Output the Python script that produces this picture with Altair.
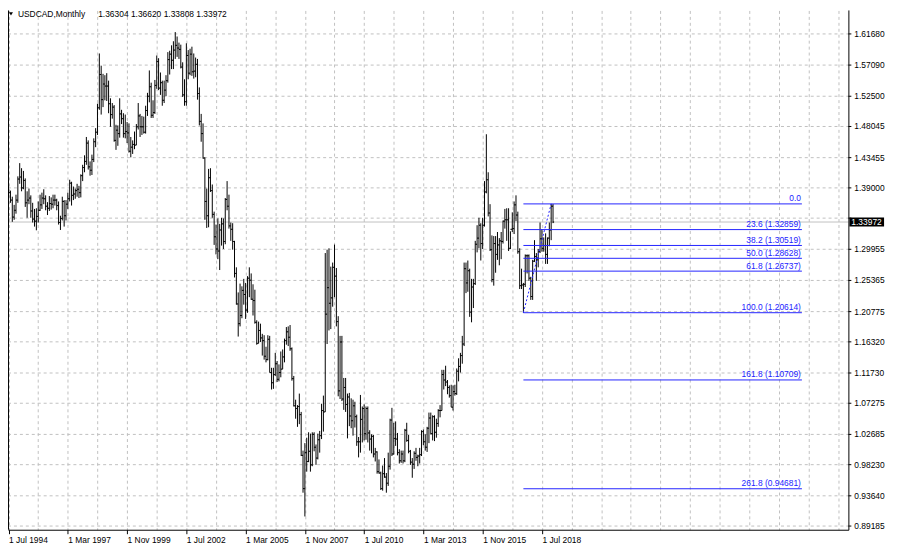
import altair as alt
import pandas as pd

# ---------------- data (monthly USDCAD bars, Jul 1994 .. Jan 2019) ----------------
opens = [
    1.3820, 1.3830, 1.3720, 1.3470, 1.3570, 1.3720,  # 1994 (Jul-Dec)
    1.4030, 1.4060, 1.3900, 1.4010, 1.3680, 1.3720, 1.3750, 1.3560, 1.3440, 1.3410, 1.3480, 1.3570,  # 1995
    1.3650, 1.3750, 1.3740, 1.3630, 1.3600, 1.3670, 1.3660, 1.3720, 1.3720, 1.3640, 1.3390, 1.3450,  # 1996
    1.3700, 1.3490, 1.3660, 1.3740, 1.3970, 1.3790, 1.3810, 1.3860, 1.3880, 1.3830, 1.4080, 1.4200,  # 1997
    1.4290, 1.4560, 1.4210, 1.4160, 1.4320, 1.4580, 1.4720, 1.5080, 1.5570, 1.5200, 1.5430, 1.5400,  # 1998
    1.5400, 1.5140, 1.4980, 1.5090, 1.4600, 1.4750, 1.4700, 1.4990, 1.4920, 1.4700, 1.4730, 1.4710,  # 1999
    1.4440, 1.4500, 1.4540, 1.4530, 1.4800, 1.4960, 1.4800, 1.4800, 1.4720, 1.5040, 1.5250, 1.5390,  # 2000
    1.4970, 1.5010, 1.5410, 1.5760, 1.5370, 1.5450, 1.5190, 1.5340, 1.5480, 1.5790, 1.5870, 1.5780,  # 2001
    1.5930, 1.6000, 1.5960, 1.5940, 1.5680, 1.5270, 1.5170, 1.5850, 1.5590, 1.5870, 1.5610, 1.5620,  # 2002
    1.5720, 1.5290, 1.4880, 1.4700, 1.4340, 1.3700, 1.3490, 1.4050, 1.3860, 1.3510, 1.3180, 1.3000,  # 2003
    1.2970, 1.3280, 1.3370, 1.3110, 1.3730, 1.3630, 1.3340, 1.3290, 1.3110, 1.2640, 1.2190, 1.1900,  # 2004
    1.2020, 1.2390, 1.2330, 1.2100, 1.2570, 1.2540, 1.2260, 1.2240, 1.1920, 1.1610, 1.1800, 1.1690,  # 2005
    1.1650, 1.1420, 1.1370, 1.1670, 1.1180, 1.1030, 1.1150, 1.1310, 1.1080, 1.1180, 1.1230, 1.1410,  # 2006
    1.1650, 1.1780, 1.1700, 1.1530, 1.1090, 1.0690, 1.0650, 1.0680, 1.0560, 0.9960, 0.9470, 1.0000,  # 2007
    0.9870, 1.0020, 0.9820, 1.0270, 1.0080, 0.9920, 1.0190, 1.0250, 1.0620, 1.0600, 1.2040, 1.2430,  # 2008
    1.2200, 1.2280, 1.2730, 1.2600, 1.1930, 1.0910, 1.1630, 1.0790, 1.0960, 1.0710, 1.0820, 1.0540,  # 2009
    1.0470, 1.0690, 1.0530, 1.0160, 1.0160, 1.0490, 1.0650, 1.0280, 1.0650, 1.0290, 1.0200, 1.0240,  # 2010
    0.9980, 1.0010, 0.9720, 0.9700, 0.9470, 0.9690, 0.9640, 0.9550, 0.9800, 1.0480, 0.9980, 1.0210,  # 2011
    1.0200, 1.0000, 0.9880, 0.9980, 0.9880, 1.0330, 1.0180, 1.0020, 0.9860, 0.9830, 0.9990, 0.9930,  # 2012
    0.9950, 0.9970, 1.0310, 1.0160, 1.0080, 1.0360, 1.0510, 1.0280, 1.0530, 1.0300, 1.0430, 1.0620,  # 2013
    1.0620, 1.1150, 1.1070, 1.1040, 1.0960, 1.0840, 1.0670, 1.0900, 1.0870, 1.1200, 1.1270, 1.1430,  # 2014
    1.1600, 1.2710, 1.2500, 1.2680, 1.2070, 1.2440, 1.2490, 1.3070, 1.3160, 1.3350, 1.3080, 1.3350,  # 2015
    1.3840, 1.4020, 1.3530, 1.2990, 1.2550, 1.3080, 1.2920, 1.3060, 1.3120, 1.3110, 1.3410, 1.3430,  # 2016
    1.3430, 1.3010, 1.3290, 1.3300, 1.3650, 1.3500, 1.2960, 1.2460, 1.2470, 1.2480, 1.2900, 1.2900,  # 2017
    1.2570, 1.2300, 1.2820, 1.2890, 1.2840, 1.2960, 1.3150, 1.3010, 1.3050, 1.2920, 1.3160, 1.3280,  # 2018
    1.36304,  # 2019 Jan
]
highs = [
    1.3930, 1.3860, 1.3770, 1.3650, 1.3800, 1.4070,
    1.4265, 1.4190, 1.4150, 1.4040, 1.3850, 1.3890, 1.3790, 1.3680, 1.3590, 1.3600, 1.3700, 1.3800,
    1.3830, 1.3880, 1.3790, 1.3690, 1.3780, 1.3760, 1.3800, 1.3800, 1.3740, 1.3700, 1.3490, 1.3770,
    1.3720, 1.3720, 1.3830, 1.4020, 1.3990, 1.3920, 1.3890, 1.3960, 1.3930, 1.4100, 1.4240, 1.4380,
    1.4650, 1.4600, 1.4290, 1.4390, 1.4630, 1.4780, 1.5140, 1.5880, 1.5700, 1.5580, 1.5560, 1.5590,
    1.5480, 1.5220, 1.5150, 1.5120, 1.4830, 1.4820, 1.5220, 1.5050, 1.5000, 1.4980, 1.4870, 1.4850,
    1.4650, 1.4600, 1.4730, 1.4840, 1.5150, 1.4990, 1.4960, 1.4950, 1.5110, 1.5300, 1.5630, 1.5450,
    1.5190, 1.5490, 1.5850, 1.5810, 1.5600, 1.5480, 1.5480, 1.5560, 1.5900, 1.5920, 1.6000, 1.6060,
    1.6195, 1.6130, 1.6040, 1.6010, 1.5750, 1.5500, 1.6030, 1.5930, 1.5950, 1.5980, 1.5880, 1.5820,
    1.5800, 1.5380, 1.4990, 1.4850, 1.4350, 1.3890, 1.4180, 1.4190, 1.3950, 1.3550, 1.3360, 1.3450,
    1.3370, 1.3460, 1.3450, 1.3750, 1.4000, 1.3800, 1.3390, 1.3380, 1.3120, 1.2730, 1.2360, 1.2490,
    1.2450, 1.2560, 1.2500, 1.2600, 1.2730, 1.2640, 1.2480, 1.2400, 1.1950, 1.1930, 1.1900, 1.1750,
    1.1730, 1.1560, 1.1730, 1.1720, 1.1250, 1.1250, 1.1470, 1.1350, 1.1300, 1.1490, 1.1520, 1.1680,
    1.1850, 1.1860, 1.1880, 1.1550, 1.1130, 1.0780, 1.0700, 1.0870, 1.0600, 1.0030, 1.0140, 1.0220,
    1.0300, 1.0280, 1.0300, 1.0300, 1.0120, 1.0280, 1.0320, 1.0720, 1.0840, 1.2940, 1.2990, 1.3010,
    1.2740, 1.2800, 1.3065, 1.2720, 1.2010, 1.1720, 1.1720, 1.1100, 1.1100, 1.0870, 1.0880, 1.0800,
    1.0780, 1.0750, 1.0560, 1.0230, 1.0850, 1.0680, 1.0710, 1.0680, 1.0680, 1.0330, 1.0270, 1.0260,
    1.0070, 1.0020, 0.9900, 0.9720, 0.9810, 0.9920, 0.9700, 1.0000, 1.0500, 1.0660, 1.0440, 1.0460,
    1.0290, 1.0050, 1.0030, 1.0030, 1.0350, 1.0440, 1.0260, 1.0040, 0.9920, 1.0020, 1.0070, 0.9970,
    1.0070, 1.0330, 1.0340, 1.0270, 1.0380, 1.0590, 1.0590, 1.0550, 1.0550, 1.0500, 1.0640, 1.0700,
    1.1220, 1.1220, 1.1280, 1.1070, 1.0990, 1.1000, 1.0990, 1.1000, 1.1240, 1.1390, 1.1470, 1.1720,
    1.2800, 1.2800, 1.2830, 1.2710, 1.2560, 1.2560, 1.3120, 1.3350, 1.3460, 1.3380, 1.3460, 1.4000,
    1.4690, 1.4130, 1.3660, 1.3200, 1.3190, 1.3190, 1.3250, 1.3160, 1.3250, 1.3420, 1.3590, 1.3600,
    1.3600, 1.3260, 1.3540, 1.3700, 1.3790, 1.3550, 1.3010, 1.2710, 1.2500, 1.2920, 1.2920, 1.2920,
    1.2590, 1.2840, 1.3130, 1.2940, 1.3000, 1.3390, 1.3290, 1.3170, 1.3230, 1.3170, 1.3390, 1.3664,
    1.36620,
]
lows = [
    1.3760, 1.3680, 1.3400, 1.3430, 1.3520, 1.3680,
    1.3960, 1.3850, 1.3880, 1.3620, 1.3460, 1.3660, 1.3460, 1.3390, 1.3330, 1.3275, 1.3390, 1.3560,
    1.3590, 1.3660, 1.3570, 1.3500, 1.3560, 1.3580, 1.3600, 1.3640, 1.3570, 1.3360, 1.3280, 1.3420,
    1.3330, 1.3420, 1.3590, 1.3700, 1.3640, 1.3720, 1.3740, 1.3770, 1.3750, 1.3760, 1.4000, 1.4130,
    1.4240, 1.4170, 1.4080, 1.4090, 1.4280, 1.4500, 1.4680, 1.5050, 1.4980, 1.5090, 1.5190, 1.5180,
    1.5000, 1.4800, 1.4920, 1.4580, 1.4460, 1.4520, 1.4640, 1.4840, 1.4640, 1.4630, 1.4560, 1.4420,
    1.4350, 1.4400, 1.4470, 1.4530, 1.4760, 1.4650, 1.4680, 1.4700, 1.4700, 1.4960, 1.5160, 1.4930,
    1.4930, 1.4990, 1.5360, 1.5340, 1.5270, 1.5110, 1.5150, 1.5250, 1.5450, 1.5570, 1.5650, 1.5650,
    1.5800, 1.5830, 1.5800, 1.5660, 1.5240, 1.5110, 1.5110, 1.5500, 1.5560, 1.5550, 1.5510, 1.5530,
    1.5200, 1.4820, 1.4580, 1.4330, 1.3430, 1.3310, 1.3320, 1.3840, 1.3460, 1.3060, 1.2920, 1.2850,
    1.2690, 1.3050, 1.3000, 1.3070, 1.3570, 1.3300, 1.3120, 1.2990, 1.2580, 1.2180, 1.1710, 1.1860,
    1.1980, 1.2180, 1.1970, 1.2060, 1.2290, 1.2250, 1.2020, 1.1900, 1.1590, 1.1610, 1.1630, 1.1430,
    1.1370, 1.1330, 1.1360, 1.1180, 1.0930, 1.0940, 1.1130, 1.1040, 1.1050, 1.1110, 1.1230, 1.1330,
    1.1590, 1.1570, 1.1500, 1.1060, 1.0680, 1.0500, 1.0380, 1.0420, 0.9950, 0.9410, 0.9060, 0.9720,
    0.9860, 0.9720, 0.9800, 1.0020, 0.9820, 0.9900, 1.0000, 1.0200, 1.0310, 1.0600, 1.1600, 1.1800,
    1.1820, 1.2150, 1.2290, 1.1860, 1.0830, 1.0790, 1.0760, 1.0630, 1.0600, 1.0210, 1.0390, 1.0360,
    1.0250, 1.0370, 1.0100, 0.9930, 1.0000, 1.0150, 1.0180, 1.0190, 1.0150, 1.0030, 0.9990, 0.9930,
    0.9870, 0.9690, 0.9690, 0.9450, 0.9440, 0.9630, 0.9410, 0.9510, 0.9750, 0.9950, 0.9970, 1.0100,
    0.9960, 0.9840, 0.9850, 0.9840, 0.9860, 1.0160, 0.9990, 0.9820, 0.9630, 0.9760, 0.9880, 0.9800,
    0.9840, 0.9950, 1.0110, 1.0030, 1.0010, 1.0140, 1.0270, 1.0180, 1.0170, 1.0220, 1.0380, 1.0520,
    1.0620, 1.0930, 1.0980, 1.0860, 1.0810, 1.0670, 1.0620, 1.0840, 1.0850, 1.1050, 1.1180, 1.1310,
    1.1570, 1.2350, 1.2370, 1.2000, 1.1920, 1.2130, 1.2470, 1.2950, 1.3010, 1.2830, 1.3000, 1.3330,
    1.3820, 1.3480, 1.2970, 1.2510, 1.2460, 1.2650, 1.2840, 1.2760, 1.2850, 1.3080, 1.3300, 1.3120,
    1.2970, 1.3000, 1.3250, 1.3220, 1.3410, 1.2930, 1.2410, 1.2410, 1.2061, 1.2440, 1.2640, 1.2530,
    1.2250, 1.2250, 1.2810, 1.2530, 1.2730, 1.2940, 1.2960, 1.2960, 1.2780, 1.2780, 1.3040, 1.3130,
    1.33808,
]
closes = [
    1.3830, 1.3720, 1.3470, 1.3570, 1.3720, 1.4030,
    1.4060, 1.3900, 1.4010, 1.3680, 1.3720, 1.3750, 1.3560, 1.3440, 1.3410, 1.3480, 1.3570, 1.3650,
    1.3750, 1.3740, 1.3630, 1.3600, 1.3670, 1.3660, 1.3720, 1.3720, 1.3640, 1.3390, 1.3450, 1.3700,
    1.3490, 1.3660, 1.3740, 1.3970, 1.3790, 1.3810, 1.3860, 1.3880, 1.3830, 1.4080, 1.4200, 1.4290,
    1.4560, 1.4210, 1.4160, 1.4320, 1.4580, 1.4720, 1.5080, 1.5570, 1.5200, 1.5430, 1.5400, 1.5400,
    1.5140, 1.4980, 1.5090, 1.4600, 1.4750, 1.4700, 1.4990, 1.4920, 1.4700, 1.4730, 1.4710, 1.4440,
    1.4500, 1.4540, 1.4530, 1.4800, 1.4960, 1.4800, 1.4800, 1.4720, 1.5040, 1.5250, 1.5390, 1.4970,
    1.5010, 1.5410, 1.5760, 1.5370, 1.5450, 1.5190, 1.5340, 1.5480, 1.5790, 1.5870, 1.5780, 1.5930,
    1.6000, 1.5960, 1.5940, 1.5680, 1.5270, 1.5170, 1.5850, 1.5590, 1.5870, 1.5610, 1.5620, 1.5720,
    1.5290, 1.4880, 1.4700, 1.4340, 1.3700, 1.3490, 1.4050, 1.3860, 1.3510, 1.3180, 1.3000, 1.2970,
    1.3280, 1.3370, 1.3110, 1.3730, 1.3630, 1.3340, 1.3290, 1.3110, 1.2640, 1.2190, 1.1900, 1.2020,
    1.2390, 1.2330, 1.2100, 1.2570, 1.2540, 1.2260, 1.2240, 1.1920, 1.1610, 1.1800, 1.1690, 1.1650,
    1.1420, 1.1370, 1.1670, 1.1180, 1.1030, 1.1150, 1.1310, 1.1080, 1.1180, 1.1230, 1.1410, 1.1650,
    1.1780, 1.1700, 1.1530, 1.1090, 1.0690, 1.0650, 1.0680, 1.0560, 0.9960, 0.9470, 1.0000, 0.9870,
    1.0020, 0.9820, 1.0270, 1.0080, 0.9920, 1.0190, 1.0250, 1.0620, 1.0600, 1.2040, 1.2430, 1.2200,
    1.2280, 1.2730, 1.2600, 1.1930, 1.0910, 1.1630, 1.0790, 1.0960, 1.0710, 1.0820, 1.0540, 1.0470,
    1.0690, 1.0530, 1.0160, 1.0160, 1.0490, 1.0650, 1.0280, 1.0650, 1.0290, 1.0200, 1.0240, 0.9980,
    1.0010, 0.9720, 0.9700, 0.9470, 0.9690, 0.9640, 0.9550, 0.9800, 1.0480, 0.9980, 1.0210, 1.0200,
    1.0000, 0.9880, 0.9980, 0.9880, 1.0330, 1.0180, 1.0020, 0.9860, 0.9830, 0.9990, 0.9930, 0.9950,
    0.9970, 1.0310, 1.0160, 1.0080, 1.0360, 1.0510, 1.0280, 1.0530, 1.0300, 1.0430, 1.0620, 1.0620,
    1.1150, 1.1070, 1.1040, 1.0960, 1.0840, 1.0670, 1.0900, 1.0870, 1.1200, 1.1270, 1.1430, 1.1600,
    1.2710, 1.2500, 1.2680, 1.2070, 1.2440, 1.2490, 1.3070, 1.3160, 1.3350, 1.3080, 1.3350, 1.3840,
    1.4020, 1.3530, 1.2990, 1.2550, 1.3080, 1.2920, 1.3060, 1.3120, 1.3110, 1.3410, 1.3430, 1.3430,
    1.3010, 1.3290, 1.3300, 1.3650, 1.3500, 1.2960, 1.2460, 1.2470, 1.2480, 1.2900, 1.2900, 1.2570,
    1.2300, 1.2820, 1.2890, 1.2840, 1.2960, 1.3150, 1.3010, 1.3050, 1.2920, 1.3160, 1.3280, 1.3630,
    1.33972,
]

months = [str(p) for p in pd.period_range("1994-07", "2019-01", freq="M")]
assert len(months) == len(opens) == len(highs) == len(lows) == len(closes)

# axis ticks (1.34545 sits under the current-price marker, so its label is hidden)
y_ticks = [1.61680, 1.57090, 1.52500, 1.48045, 1.43455, 1.39000, 1.34545, 1.29955, 1.25365,
           1.20775, 1.16320, 1.11730, 1.07275, 1.02685, 0.98230, 0.93640, 0.89185]
y_hidden_label = 1.34545
x_tick_labels = ["1 Jul 1994", "1 Mar 1997", "1 Nov 1999", "1 Jul 2002", "1 Mar 2005",
                 "1 Nov 2007", "1 Jul 2010", "1 Mar 2013", "1 Nov 2015", "1 Jul 2018"]
x_tick_months = ["1994-07", "1997-03", "1999-11", "2002-07", "2005-03",
                 "2007-11", "2010-07", "2013-03", "2015-11", "2018-07"]

# Fibonacci retracement (Sep 2017 low -> Dec 2018 high)
fib_levels = ["0.0", "23.6", "38.2", "50.0", "61.8", "100.0", "161.8", "261.8"]
fib_prices = [1.36641, 1.32859, 1.30519, 1.28628, 1.26737, 1.20614, 1.10709, 0.94681]
fib_low_month, fib_high_month = "2017-09", "2018-12"
fib_end_index = 428.4

current_price = 1.33972
header_name = "USDCAD,Monthly"
header_values = "1.36304 1.36620 1.33808 1.33972"

# ---------------- frames ----------------
bars = pd.DataFrame({"i": range(len(months)), "month": months, "open": opens,
                     "high": highs, "low": lows, "close": closes})
idx = {m: k for k, m in enumerate(months)}
fib_df = pd.DataFrame({
    "price": fib_prices,
    "label": [lv if lv == "0.0" else f"{lv} ({p:.5f})" for lv, p in zip(fib_levels, fib_prices)],
    "x0": idx[fib_low_month], "x1": fib_end_index,
})
trend_df = pd.DataFrame({"i": [idx[fib_low_month], idx[fib_high_month]],
                         "price": [fib_prices[5], fib_prices[0]]})
price_df = pd.DataFrame({"price": [current_price], "txt": [f"{current_price:.5f}"]})
ytick_df = pd.DataFrame({"v": y_ticks})
ylab_df = pd.DataFrame({"v": [v for v in y_ticks if v != y_hidden_label]})
ylab_df["txt"] = [f"{v:.5f}" for v in ylab_df["v"]]

W, H = 848, 524
FONT = "Liberation Sans"
FS = 8.5
FIB_BLUE = "#2323ff"
xs = alt.Scale(domain=[-0.32, 453.5], nice=False, zero=False)
ys = alt.Scale(domain=[0.88644, 1.6514], nice=False, zero=False)

grid_vals = list(range(0, 449, 16))
label_idx = [idx[m] for m in x_tick_months]
idx_js = "[" + ",".join(str(k) for k in label_idx) + "]"
lab_js = "[" + ",".join(f"'{t}'" for t in x_tick_labels) + "]"

x_grid_axis = alt.Axis(values=grid_vals, title=None, grid=True, gridColor="#c0c0c0",
                       gridDash=[3, 3], labels=False, ticks=False, domain=False)
x_lab_axis = alt.Axis(values=label_idx, title=None, grid=False, orient="bottom",
                      domainColor="#000", tickColor="#000", tickSize=4,
                      labelExpr=f"{lab_js}[indexof({idx_js}, datum.value)]",
                      labelAlign="left", labelBaseline="top", labelPadding=2, labelFont=FONT,
                      labelFontSize=FS, labelColor="#000", labelOverlap=False, labelFlush=False)

base = alt.Chart(bars)

grid_layer = base.mark_rule(opacity=0).encode(
    x=alt.X("i:Q", scale=xs, axis=x_grid_axis),
    y=alt.Y("low:Q", scale=ys, axis=None))
label_layer = base.mark_rule(opacity=0).encode(
    x=alt.X("i:Q", scale=xs, axis=x_lab_axis),
    y=alt.Y("low:Q", scale=ys, axis=None))

# price scale on the right: grid, ticks, labels placed through the y scale
y_grid = alt.Chart(ytick_df).mark_rule(color="#c0c0c0", strokeDash=[3, 3], strokeWidth=1).encode(
    y=alt.Y("v:Q", scale=ys, axis=None), x=alt.value(0), x2=alt.value(W))
y_tickmarks = alt.Chart(ytick_df).mark_rule(color="#000", strokeWidth=1).encode(
    y=alt.Y("v:Q", scale=ys, axis=None), x=alt.value(W), x2=alt.value(W + 3))
y_labels = alt.Chart(ylab_df).mark_text(align="left", baseline="middle", font=FONT,
                                        fontSize=FS, color="#000").encode(
    y=alt.Y("v:Q", scale=ys, axis=None), x=alt.value(W + 6), text="txt:N")

price_line = alt.Chart(price_df).mark_rule(color="#c0c0c0", strokeWidth=1).encode(
    y=alt.Y("price:Q", scale=ys, axis=None),
    x=alt.value(0), x2=alt.value(W))

hl = base.mark_rule(color="#000", strokeWidth=1).encode(
    x=alt.X("i:Q", scale=xs, axis=None),
    y=alt.Y("low:Q", scale=ys, axis=None), y2="high:Q")
open_tick = base.transform_calculate(il="datum.i - 0.6").mark_rule(
    color="#000", strokeWidth=1).encode(
    x=alt.X("il:Q", scale=xs, axis=None), x2="i:Q",
    y=alt.Y("open:Q", scale=ys, axis=None))
close_tick = base.transform_calculate(ir="datum.i + 0.6").mark_rule(
    color="#000", strokeWidth=1).encode(
    x=alt.X("i:Q", scale=xs, axis=None), x2="ir:Q",
    y=alt.Y("close:Q", scale=ys, axis=None))

fib_lines = alt.Chart(fib_df).mark_rule(color=FIB_BLUE, strokeWidth=1).encode(
    x=alt.X("x0:Q", scale=xs, axis=None), x2="x1:Q",
    y=alt.Y("price:Q", scale=ys, axis=None))
fib_text = alt.Chart(fib_df).mark_text(
    align="right", baseline="alphabetic", dx=-1, dy=-2.5, font=FONT, fontSize=FS,
    color=FIB_BLUE).encode(
    x=alt.X("x1:Q", scale=xs, axis=None),
    y=alt.Y("price:Q", scale=ys, axis=None), text="label:N")
trend = alt.Chart(trend_df).mark_line(color=FIB_BLUE, strokeWidth=1, strokeDash=[2, 2]).encode(
    x=alt.X("i:Q", scale=xs, axis=None), y=alt.Y("price:Q", scale=ys, axis=None))

box = alt.Chart(price_df).mark_rule(color="#000", strokeWidth=9, strokeCap="butt").encode(
    y=alt.Y("price:Q", scale=ys, axis=None), x=alt.value(W + 1), x2=alt.value(W + 36))
box_text = alt.Chart(price_df).mark_text(
    align="left", baseline="middle", font=FONT, fontSize=FS, color="#fff").encode(
    y=alt.Y("price:Q", scale=ys, axis=None), x=alt.value(W + 3), text="txt:N")

hdr = pd.DataFrame({"a": [header_name], "b": [header_values]})
hdr_name = alt.Chart(hdr).mark_text(align="left", baseline="alphabetic", font=FONT,
                                    fontSize=FS, color="#000").encode(
    x=alt.value(10), y=alt.value(7), text="a:N")
hdr_vals = alt.Chart(hdr).mark_text(align="left", baseline="alphabetic", font=FONT,
                                    fontSize=FS, color="#000").encode(
    x=alt.value(91), y=alt.value(7), text="b:N")
hdr_tri = alt.Chart(hdr).mark_point(shape="triangle-down", filled=True, size=16,
                                    color="#000", opacity=1).encode(
    x=alt.value(3), y=alt.value(3.5))

frame = alt.Chart(hdr)
left_border = frame.mark_rule(color="#000", strokeWidth=1).encode(
    x=alt.value(0.5), y=alt.value(0), y2=alt.value(H))
right_border = frame.mark_rule(color="#000", strokeWidth=1).encode(
    x=alt.value(W + 0.5), y=alt.value(0), y2=alt.value(H + 0.5))

chart = alt.layer(
    grid_layer, label_layer, y_grid, price_line, hl, open_tick, close_tick,
    fib_lines, fib_text, trend, y_tickmarks, y_labels, right_border,
    box, box_text, hdr_name, hdr_vals, hdr_tri, left_border,
).resolve_axis(x="independent").properties(
    width=W, height=H, autosize="none",
    padding={"left": 0, "top": 0, "right": 43, "bottom": 19},
).configure(background="#ffffff").configure_view(stroke=None)

chart.save("out.html", embed_options={"renderer": "svg", "actions": False})
